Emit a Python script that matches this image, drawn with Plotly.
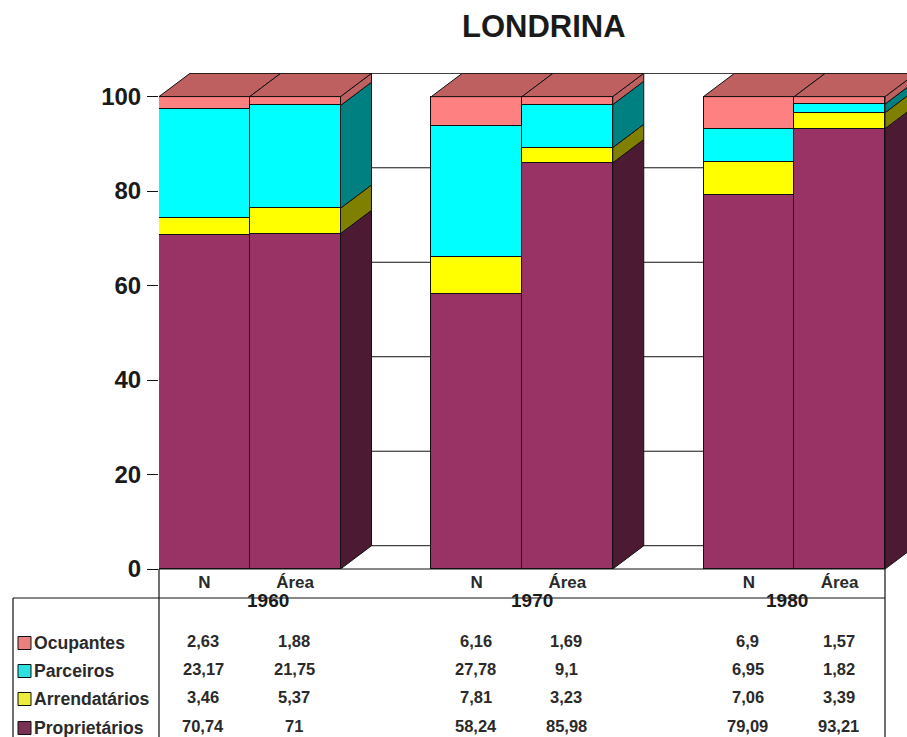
import plotly.graph_objects as go

years = ["1960", "1970", "1980"]
columns = ["N", "Área", "N", "Área", "N", "Área"]
series_names = ["Proprietários", "Arrendatários", "Parceiros", "Ocupantes"]
proprietarios = [70.74, 71, 58.24, 85.98, 79.09, 93.21]
arrendatarios = [3.46, 5.37, 7.81, 3.23, 7.06, 3.39]
parceiros = [23.17, 21.75, 27.78, 9.1, 6.95, 1.82]
ocupantes = [2.63, 1.88, 6.16, 1.69, 6.9, 1.57]
series_values = [proprietarios, arrendatarios, parceiros, ocupantes]
front_colors = ["#993366", "#ffff00", "#00ffff", "#ff8080"]
side_colors = ["#4d1a33", "#808000", "#008080", "#bf6060"]
top_color = "#bf6060"
swatch_colors = ["#7a2f55", "#ecec3c", "#2fe0e0", "#e88080"]

W, H = 907, 737
L, R, T, B = 159, 907, 73, 569
BAR_PX = 90.75
Y_PX = 4.724
DX = 31 / BAR_PX
DY = 23.3 / Y_PX
INK = "#111111"
TXT = "#2a2a2a"
FONT = "Liberation Sans"

x_positions = [0.5, 1.5, 3.5, 4.5, 6.5, 7.5]


def px(x):
    return (x - L) / (R - L)


def py(y):
    return (B - y) / (B - T)


fig = go.Figure()

for name, vals, col in zip(series_names, series_values, front_colors):
    fig.add_trace(go.Bar(x=x_positions, y=vals, name=name, width=1,
                         marker=dict(color=col, line=dict(color=INK, width=1)),
                         showlegend=False, hoverinfo="skip"))

totals = [sum(s[i] for s in series_values) for i in range(6)]


def poly(xs, ys, color):
    fig.add_trace(go.Scatter(x=xs + xs[:1], y=ys + ys[:1], mode="lines", fill="toself",
                             fillcolor=color, line=dict(color=INK, width=1),
                             showlegend=False, hoverinfo="skip"))


# side faces of the right-hand bar of every group
for i in (1, 3, 5):
    x1 = x_positions[i] + 0.5
    base = 0
    for vals, col in zip(series_values, side_colors):
        top = base + vals[i]
        poly([x1, x1 + DX, x1 + DX, x1], [base, base + DY, top + DY, top], col)
        base = top

# top faces
for i in range(6):
    x0, x1 = x_positions[i] - 0.5, x_positions[i] + 0.5
    t = totals[i]
    poly([x0, x1, x1 + DX, x0 + DX], [t, t, t + DY, t + DY], top_color)

shapes = []
# back wall gridlines
for v in [0, 20, 40, 60, 80, 100]:
    shapes.append(dict(type="line", xref="x", yref="y", x0=DX, x1=8.4, y0=v + DY, y1=v + DY,
                       line=dict(color=INK, width=1), layer="below"))


def pline(x0, y0, x1, y1):
    shapes.append(dict(type="line", xref="paper", yref="paper", x0=px(x0), x1=px(x1),
                       y0=py(y0), y1=py(y1), line=dict(color=INK, width=1.2), layer="above"))


# axis base and data-table frame
pline(159, 569, 885, 569)
pline(159, 569, 159, 737)
pline(885, 569, 885, 737)
pline(13, 598, 885, 598)
pline(13, 598, 13, 737)

annotations = []


def text(x, y, s, size, anchor="center", color=TXT):
    annotations.append(dict(text=s, xref="paper", yref="paper", x=px(x), y=py(y),
                            xanchor=anchor, yanchor="middle", showarrow=False,
                            font=dict(family=FONT, size=size, color=color)))


text(544, 26, "<b>LONDRINA</b>", 31, color="#1a1a1a")
for year, cx in zip(years, [268, 532, 787]):
    text(cx, 600, f"<b>{year}</b>", 19, color="#1a1a1a")

row_y = [727, 698, 670, 642]
col_x = [203.4, 294.1, 475.6, 566.4, 747.9, 838.6]
for name, vals, yy, sw in zip(series_names, series_values, row_y, swatch_colors):
    shapes.append(dict(type="rect", xref="paper", yref="paper",
                       x0=px(18), x1=px(31), y0=py(yy - 5.5), y1=py(yy + 7.5),
                       fillcolor=sw, line=dict(color=INK, width=1), layer="above"))
    text(32, yy + 0.5, f"<b>{name}</b>", 17.6, anchor="left")
    for v, cx in zip(vals, col_x):
        text(cx, yy - 1, "<b>" + f"{v:g}".replace(".", ",") + "</b>", 16.5)

fig.update_layout(
    width=W, height=H, barmode="stack", bargap=0,
    margin=dict(l=L, r=W - R, t=T, b=H - B, autoexpand=False),
    paper_bgcolor="white", plot_bgcolor="white",
    shapes=shapes, annotations=annotations,
    font=dict(family=FONT, color=TXT),
    xaxis=dict(range=[0, (R - L) / BAR_PX], tickmode="array", tickvals=x_positions,
               ticktext=[f"<b>{c}</b>" for c in columns],
               showgrid=False, zeroline=False, showline=False, ticks="", tickangle=0,
               ticklabelstandoff=1,
               tickfont=dict(family=FONT, size=17, color=TXT)),
    yaxis=dict(range=[0, (B - T) / Y_PX], tickmode="array", tickvals=[0, 20, 40, 60, 80, 100],
               ticktext=[f"<b>{v}</b>" for v in [0, 20, 40, 60, 80, 100]],
               showgrid=False, zeroline=False, showline=False, ticks="outside", ticklen=11,
               tickcolor=INK, tickwidth=1.2, ticklabelstandoff=1,
               tickfont=dict(family=FONT, size=24, color="#1a1a1a")),
)

fig.write_html("out.html", post_script="document.body.style.margin='0';",
               config={"displayModeBar": False})
